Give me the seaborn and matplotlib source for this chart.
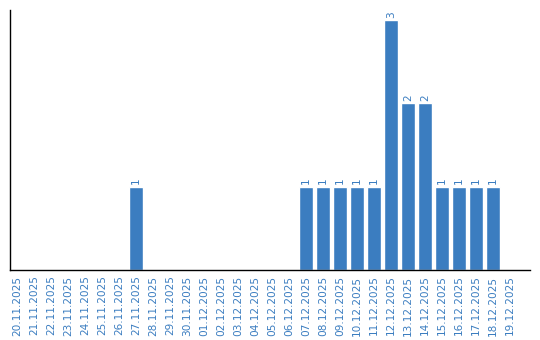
import matplotlib
matplotlib.use("Agg")
import matplotlib.pyplot as plt
import seaborn as sns
import pandas as pd

dates = ["20.11.2025", "21.11.2025", "22.11.2025", "23.11.2025", "24.11.2025",
         "25.11.2025", "26.11.2025", "27.11.2025", "28.11.2025", "29.11.2025",
         "30.11.2025", "01.12.2025", "02.12.2025", "03.12.2025", "04.12.2025",
         "05.12.2025", "06.12.2025", "07.12.2025", "08.12.2025", "09.12.2025",
         "10.12.2025", "11.12.2025", "12.12.2025", "13.12.2025", "14.12.2025",
         "15.12.2025", "16.12.2025", "17.12.2025", "18.12.2025", "19.12.2025"]
counts = [0, 0, 0, 0, 0, 0, 0, 1, 0, 0,
          0, 0, 0, 0, 0, 0, 0, 1, 1, 1,
          1, 1, 3, 2, 2, 1, 1, 1, 1, 0]

df = pd.DataFrame({"date": dates, "count": counts})

sns.set_style("white")
plt.rcParams['font.family'] = ['DejaVu Sans']
color = "#3b7dc0"

fig = plt.figure(figsize=(5.4, 3.4), dpi=100)
ax = fig.add_axes([10/540, 70/340, 520/540, 260/340])
sns.barplot(data=df, x="date", y="count", color=color, saturation=1, width=0.82, ax=ax)

for i, v in enumerate(counts):
    if v > 0:
        ax.text(i, v + 0.03, str(v), rotation=90, ha="center", va="bottom",
                fontsize=7.6, color=color)

ax.set_xlim(-0.41, 30.18)
ax.set_ylim(0, 3.12)
ax.set_xlabel("")
ax.set_ylabel("")
ax.set_yticks([])
ax.tick_params(axis="x", labelrotation=90, labelsize=7.6, labelcolor=color, length=0, pad=4)
for s in ["top", "right"]:
    ax.spines[s].set_visible(False)
for s in ["left", "bottom"]:
    ax.spines[s].set_color("black")
    ax.spines[s].set_linewidth(1)

fig.savefig("out.png", dpi=100)
